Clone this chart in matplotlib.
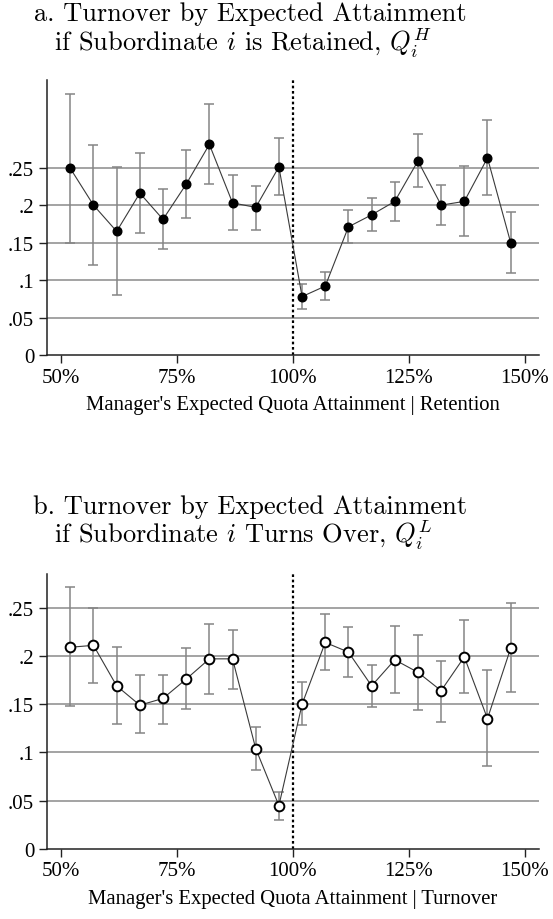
import matplotlib.pyplot as plt

plt.rcParams['mathtext.fontset'] = 'cm'

# expected quota attainment bins (%)
x_pct = [52, 57, 62, 67, 72, 77, 82, 87, 92, 97,
         102, 107, 112, 117, 122, 127, 132, 137, 142, 147]

# panel a: subordinate retained
ret_mean = [0.249, 0.200, 0.165, 0.216, 0.181, 0.228, 0.281, 0.203, 0.197, 0.251,
            0.078, 0.092, 0.171, 0.187, 0.205, 0.259, 0.200, 0.205, 0.263, 0.150]
ret_hi = [0.348, 0.280, 0.251, 0.270, 0.222, 0.274, 0.335, 0.240, 0.226, 0.290,
          0.095, 0.111, 0.193, 0.209, 0.231, 0.295, 0.227, 0.252, 0.313, 0.191]
ret_lo = [0.150, 0.120, 0.080, 0.163, 0.141, 0.183, 0.228, 0.167, 0.167, 0.214,
          0.062, 0.074, 0.150, 0.165, 0.179, 0.224, 0.173, 0.159, 0.213, 0.109]

# panel b: subordinate turns over
to_mean = [0.209, 0.211, 0.169, 0.149, 0.156, 0.176, 0.197, 0.197, 0.104, 0.045,
           0.150, 0.214, 0.204, 0.169, 0.196, 0.183, 0.164, 0.199, 0.135, 0.208]
to_hi = [0.271, 0.250, 0.209, 0.180, 0.180, 0.208, 0.233, 0.227, 0.126, 0.059,
         0.173, 0.243, 0.230, 0.191, 0.231, 0.222, 0.195, 0.237, 0.185, 0.255]
to_lo = [0.148, 0.172, 0.129, 0.120, 0.130, 0.145, 0.161, 0.166, 0.082, 0.030,
         0.128, 0.185, 0.178, 0.147, 0.162, 0.144, 0.132, 0.162, 0.086, 0.163]

y_ticks = [0, 0.05, 0.1, 0.15, 0.2, 0.25]
y_labels = ['0', '.05', '.1', '.15', '.2', '.25']
x_ticks = [50, 75, 100, 125, 150]
x_labels = ['50%', '75%', '100%', '125%', '150%']

fig = plt.figure(figsize=(5.53, 9.2), dpi=100)
ax_a = fig.add_axes([0.0844, 0.613, 0.891, 0.299])
ax_b = fig.add_axes([0.0844, 0.0761, 0.891, 0.299])

serif = ['Liberation Serif', 'DejaVu Serif']


def panel(ax, mean, lo, hi, ymax, filled, xlabel):
    for yv in y_ticks[1:]:
        ax.axhline(yv, color='#8a8a8a', lw=1.1, zorder=0)
    ax.axvline(100, color='black', ls=(0, (1.2, 1.2)), lw=1.6, zorder=1)
    err = [[m - l for m, l in zip(mean, lo)], [h - m for m, h in zip(mean, hi)]]
    ax.errorbar(x_pct, mean, yerr=err, fmt='none', ecolor='#858585',
                elinewidth=1.1, capsize=3.6, capthick=1.1, zorder=2)
    ax.plot(x_pct, mean, color='#3a3a3a', lw=0.8, zorder=3)
    if filled:
        ax.plot(x_pct, mean, 'o', color='black', ms=6.2, zorder=4)
    else:
        ax.plot(x_pct, mean, 'o', mfc='white', mec='black', mew=1.4, ms=7, zorder=4)
    ax.set_xlim(46.9, 153.2)
    ax.set_ylim(0, ymax)
    ax.set_yticks(y_ticks)
    ax.set_yticklabels(y_labels, family=serif, fontsize=15)
    ax.set_xticks(x_ticks)
    ax.set_xticklabels(x_labels, family=serif, fontsize=15)
    ax.tick_params(length=6, width=1, color='#222222', pad=3)
    ax.set_xlabel(xlabel, family=serif, fontsize=14.9, labelpad=6)
    for s in ['top', 'right']:
        ax.spines[s].set_visible(False)
    for s in ['left', 'bottom']:
        ax.spines[s].set_color('#222222')
        ax.spines[s].set_linewidth(1.1)


panel(ax_a, ret_mean, ret_lo, ret_hi, 0.367, True,
      "Manager's Expected Quota Attainment | Retention")
panel(ax_b, to_mean, to_lo, to_hi, 0.285, False,
      "Manager's Expected Quota Attainment | Turnover")

title_kw = dict(ha='center', va='baseline', family='cmr10', fontsize=19)
fig.text(250 / 553, 0.977, 'a. Turnover by Expected Attainment', **title_kw)
fig.text(243 / 553, 0.9445, 'if Subordinate $i$ is Retained, $Q_i^H$', **title_kw)
fig.text(250 / 553, 0.4413, 'b. Turnover by Expected Attainment', **title_kw)
fig.text(243 / 553, 0.4097, 'if Subordinate $i$ Turns Over, $Q_i^L$', **title_kw)

fig.savefig('out.png', dpi=100)
